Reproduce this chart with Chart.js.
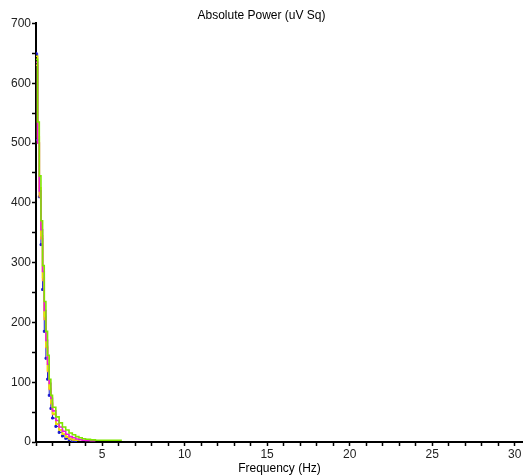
<!DOCTYPE html>
<html>
<head>
<meta charset="utf-8">
<script src="https://cdn.jsdelivr.net/npm/chart.js@4/dist/chart.umd.min.js"></script>
<style>
  html, body { margin: 0; padding: 0; background: #fff; }
  #chart { display: block; }
</style>
</head>
<body>
<canvas id="chart" width="523" height="476"></canvas>
<script>
// frequency bins (Hz)
var freqs = [1.0, 1.1, 1.2, 1.3, 1.4, 1.5, 1.6, 1.7, 1.8, 1.9, 2.0,
             2.2, 2.4, 2.6, 2.8, 3.0, 3.2, 3.4, 3.6, 3.8, 4.0, 4.3, 4.6, 5.0, 5.5, 6.2];

// absolute power per trace (uV sq)
var bluePower    = [650, 505, 410, 330, 255, 185, 140, 105, 78, 56, 40, 26, 16, 10, 6, 4, 2, 1];
var orangePower  = [630, 500, 410, 340, 270, 205, 158, 118, 88, 64, 46, 30, 20, 13, 8, 5, 3.5, 2.5];
var yellowPower  = [645, 510, 425, 345, 275, 210, 160, 120, 90, 66, 48, 30, 20, 13, 9, 6, 4, 3, 2];
var magentaPower = [635, 500, 420, 355, 285, 220, 170, 130, 98, 73, 52, 36, 25, 18, 13, 9, 7, 5, 4, 3, 2.5, 2, 2];
var greenPower   = [640, 535, 445, 370, 295, 235, 185, 145, 105, 78, 58, 42, 32, 25, 20, 15, 12, 9, 7, 5.5, 4.5, 3.5, 3, 3, 3, 3];

var xTickValues = [];
for (var t = 1; t <= 30; t++) xTickValues.push(t);
var yTicksMajor = 100;
var xTicksMajor = 5;

function toPoints(vals) {
    var pts = [];
    for (var i = 0; i < vals.length; i++) {
        pts.push({ x: freqs[i], y: vals[i] });
    }
    return pts;
}

function trace(label, vals, color, order, showPoints) {
    return {
        label: label,
        data: toPoints(vals),
        borderColor: color,
        backgroundColor: color,
        borderWidth: showPoints ? 1 : 1.6,
        stepped: 'before',
        pointRadius: showPoints ? 1.3 : 0,
        pointStyle: 'rect',
        order: order,
        fill: false
    };
}

var font = 'Liberation Sans, Arial, sans-serif';

var ctx = document.getElementById('chart').getContext('2d');
var chart = new Chart(ctx, {
    type: 'line',
    data: {
        datasets: [
            trace('Blue', bluePower, '#1a1ad0', 5, true),
            trace('Orange', orangePower, '#ffa030', 4, false),
            trace('Yellow', yellowPower, '#e6e600', 3, false),
            trace('Magenta', magentaPower, '#ee18e0', 2, false),
            trace('Green', greenPower, '#7ee600', 1, false)
        ]
    },
    options: {
        responsive: false,
        animation: false,
        layout: { autoPadding: false, padding: 0 },
        plugins: {
            legend: { display: false },
            tooltip: { enabled: false },
            title: {
                display: true,
                text: 'Absolute Power (uV Sq)',
                color: '#000',
                font: { family: font, size: 12, weight: 'normal' },
                padding: { top: 8, bottom: 1 }
            }
        },
        scales: {
            x: {
                type: 'linear',
                min: 1,
                max: 30.5,
                afterBuildTicks: function(scale) {
                    scale.ticks = xTickValues.map(function(v) { return { value: v }; });
                },
                afterFit: function(scale) {
                    scale.height = 34;
                    scale.paddingLeft = 0;
                    scale.paddingRight = 0;
                },
                ticks: {
                    autoSkip: false,
                    maxRotation: 0,
                    padding: 1,
                    color: '#222',
                    font: { family: font, size: 12 },
                    callback: function(v) { return v % xTicksMajor === 0 ? v : ''; }
                },
                grid: { drawOnChartArea: false, tickLength: 4, tickColor: '#000', tickWidth: 1.5 },
                border: { color: '#000', width: 2 },
                title: {
                    display: true,
                    text: 'Frequency (Hz)',
                    color: '#000',
                    font: { family: font, size: 12 },
                    padding: 0
                }
            },
            y: {
                min: 0,
                max: 700,
                afterFit: function(scale) { scale.width = 36; },
                ticks: {
                    stepSize: 50,
                    autoSkip: false,
                    padding: 1,
                    color: '#222',
                    font: { family: font, size: 12 },
                    callback: function(v) { return v % yTicksMajor === 0 ? v : ''; }
                },
                grid: { drawOnChartArea: false, tickLength: 4, tickColor: '#000', tickWidth: 1.5 },
                border: { color: '#000', width: 2 }
            }
        }
    }
});
</script>
</body>
</html>
